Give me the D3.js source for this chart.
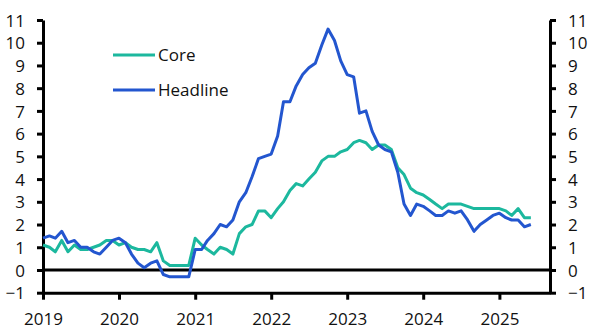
<!DOCTYPE html>
<html>
<head>
<meta charset="utf-8">
<script src="https://cdn.jsdelivr.net/npm/d3@7"></script>
<style>
  html, body { margin: 0; padding: 0; background: #fff; }
  svg { display: block; }
  text { font-family: "Open Sans", sans-serif; fill: #111; }
</style>
</head>
<body>
<svg id="chart" width="593" height="332"></svg>
<script>
// Euro-zone HICP inflation, % y/y, monthly from Jan 2019 to Jun 2025
const startMonth = "2019-01";
const endMonth = "2025-09";
const headline = [
  1.4, 1.5, 1.4, 1.7, 1.2, 1.3, 1.0, 1.0, 0.8, 0.7, 1.0, 1.3,
  1.4, 1.2, 0.7, 0.3, 0.1, 0.3, 0.4, -0.2, -0.3, -0.3, -0.3, -0.3,
  0.9, 0.9, 1.3, 1.6, 2.0, 1.9, 2.2, 3.0, 3.4, 4.1, 4.9, 5.0,
  5.1, 5.9, 7.4, 7.4, 8.1, 8.6, 8.9, 9.1, 9.9, 10.6, 10.1, 9.2,
  8.6, 8.5, 6.9, 7.0, 6.1, 5.5, 5.3, 5.2, 4.3, 2.9, 2.4, 2.9,
  2.8, 2.6, 2.4, 2.4, 2.6, 2.5, 2.6, 2.2, 1.7, 2.0, 2.2, 2.4,
  2.5, 2.3, 2.2, 2.2, 1.9, 2.0
];
const core = [
  1.1, 1.0, 0.8, 1.3, 0.8, 1.1, 0.9, 0.9, 1.0, 1.1, 1.3, 1.3,
  1.1, 1.2, 1.0, 0.9, 0.9, 0.8, 1.2, 0.4, 0.2, 0.2, 0.2, 0.2,
  1.4, 1.1, 0.9, 0.7, 1.0, 0.9, 0.7, 1.6, 1.9, 2.0, 2.6, 2.6,
  2.3, 2.7, 3.0, 3.5, 3.8, 3.7, 4.0, 4.3, 4.8, 5.0, 5.0, 5.2,
  5.3, 5.6, 5.7, 5.6, 5.3, 5.5, 5.5, 5.3, 4.5, 4.2, 3.6, 3.4,
  3.3, 3.1, 2.9, 2.7, 2.9, 2.9, 2.9, 2.8, 2.7, 2.7, 2.7, 2.7,
  2.7, 2.6, 2.4, 2.7, 2.3, 2.3
];
const yTicks = [-1, 0, 1, 2, 3, 4, 5, 6, 7, 8, 9, 10, 11];
const xTickYears = [2019, 2020, 2021, 2022, 2023, 2024, 2025];
const seriesNames = ["Core", "Headline"];
const seriesColors = ["#1cb89e", "#2356cf"];

const parse = d3.timeParse("%Y-%m");
const t0 = parse(startMonth), t1 = parse(endMonth);
const months = d3.timeMonth.range(t0, d3.timeMonth.offset(t0, headline.length));

const svg = d3.select("#chart");
const mLeft = 43, mRight = 550, mTop = 20, mBottom = 292.7;

const x = d3.scaleTime().domain([t0, t1]).range([mLeft, mRight]);
const y = d3.scaleLinear().domain([-1, 11]).range([mBottom, mTop]);

const axisStyle = g => {
  g.selectAll("path.domain").attr("stroke", "#000").attr("stroke-width", 3);
  g.selectAll(".tick line").attr("stroke", "#000").attr("stroke-width", 3);
  g.selectAll(".tick text").style("font-family", "'Open Sans', sans-serif").style("font-size", "17px").attr("fill", "#111");
};

// left axis
svg.append("g").attr("transform", `translate(${mLeft},0)`)
  .call(d3.axisLeft(y).tickValues(yTicks).tickSize(6).tickSizeOuter(0).tickPadding(12).tickFormat(d3.format("d")))
  .call(axisStyle)
  .call(g => g.selectAll(".tick text").attr("dy", "0.36em"));

// right axis
svg.append("g").attr("transform", `translate(${mRight},0)`)
  .call(d3.axisRight(y).tickValues(yTicks).tickSize(6).tickSizeOuter(0).tickPadding(12).tickFormat(d3.format("d")))
  .call(axisStyle)
  .call(g => g.selectAll(".tick text").attr("dy", "0.36em"));

// bottom axis
svg.append("g").attr("transform", `translate(0,${mBottom})`)
  .call(d3.axisBottom(x).tickValues(xTickYears.map(yr => new Date(yr, 0, 1))).tickSize(7).tickSizeOuter(0).tickPadding(13).tickFormat(d3.timeFormat("%Y")))
  .call(axisStyle)
  .call(g => g.selectAll(".tick text").attr("dy", "0.71em"));

// zero line
svg.append("line")
  .attr("x1", mLeft).attr("x2", mRight)
  .attr("y1", y(0)).attr("y2", y(0))
  .attr("stroke", "#000").attr("stroke-width", 3);

const line = d3.line().x((d, i) => x(months[i])).y(d => y(d));

[core, headline].forEach((s, k) => {
  svg.append("path")
    .datum(s)
    .attr("fill", "none")
    .attr("stroke", seriesColors[k])
    .attr("stroke-width", 3)
    .attr("stroke-linejoin", "round")
    .attr("d", line);
});

// legend
const legendY = [55, 90];
seriesNames.forEach((name, k) => {
  svg.append("line")
    .attr("x1", 113).attr("x2", 155)
    .attr("y1", legendY[k]).attr("y2", legendY[k])
    .attr("stroke", seriesColors[k]).attr("stroke-width", 3);
  svg.append("text")
    .attr("x", 158).attr("y", legendY[k]).attr("dy", "0.36em")
    .style("font-size", "17px")
    .text(name);
});
</script>
</body>
</html>
